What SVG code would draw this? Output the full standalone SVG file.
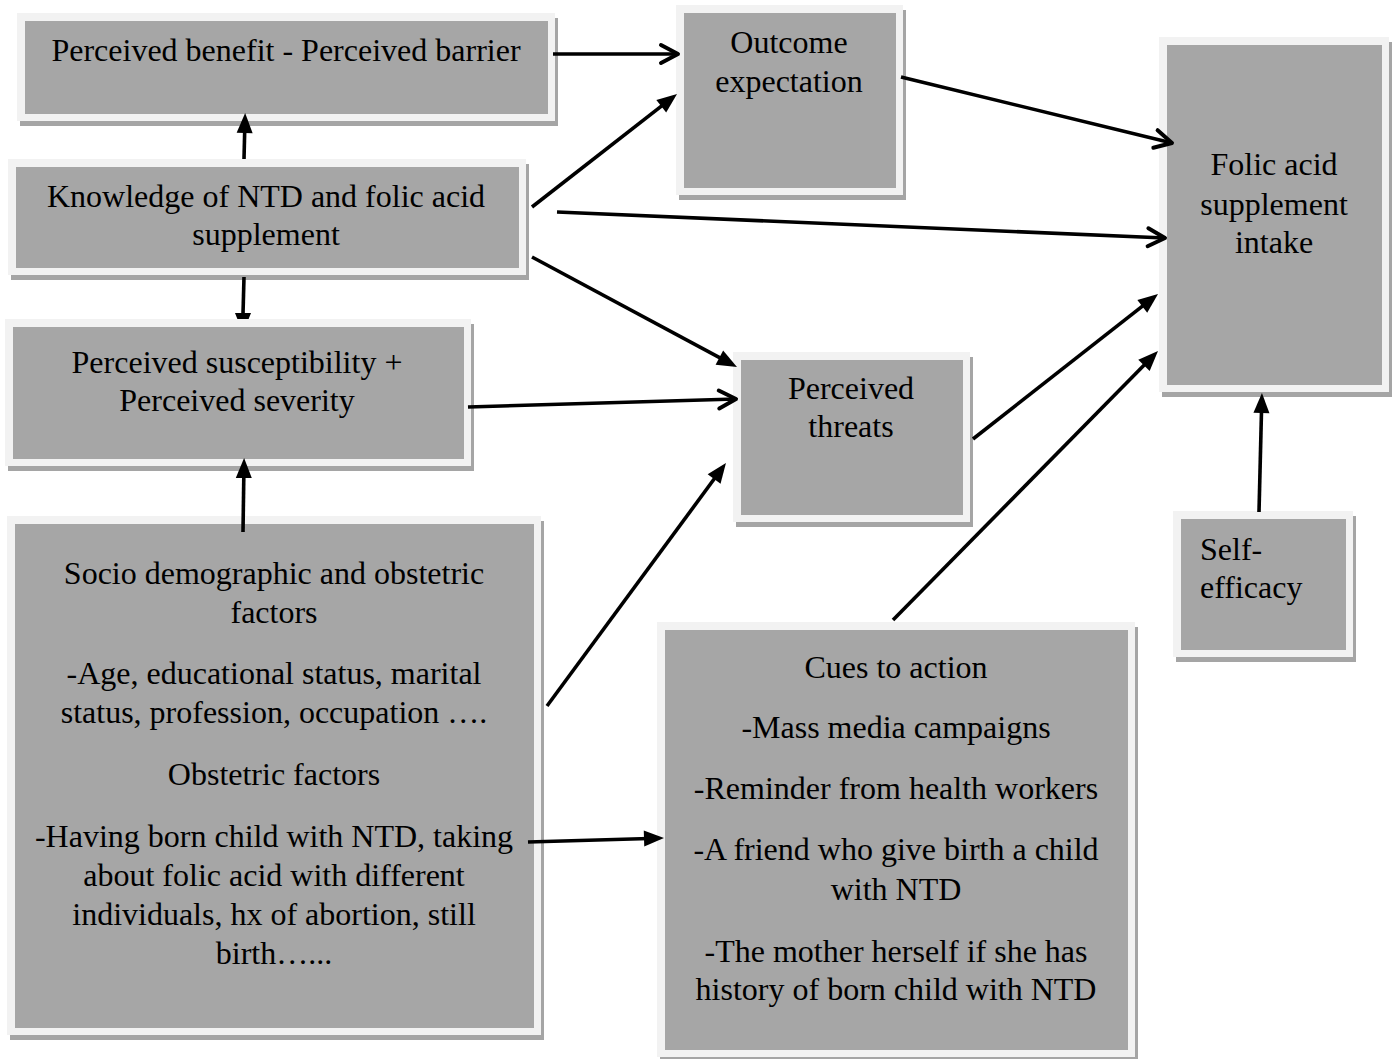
<svg xmlns="http://www.w3.org/2000/svg" width="1396" height="1059" viewBox="0 0 1396 1059">
<style>
  .shadow { fill: #a5a5a5; }
  .frame { fill: #f2f2f2; }
  .inner { fill: #a6a6a6; }
  text { font-family: "Liberation Serif", "Times New Roman", serif; font-size: 32px; fill: #000; }
  .c { text-anchor: middle; }
  .ln { stroke: #000; stroke-width: 3.6; fill: none; }
</style>
<defs>
  <marker id="solid" markerUnits="userSpaceOnUse" markerWidth="24" markerHeight="20" refX="14" refY="8" orient="auto" overflow="visible">
    <path d="M0,0 L20,8 L0,16 z" fill="#000"/>
  </marker>
  <marker id="open" markerUnits="userSpaceOnUse" markerWidth="24" markerHeight="22" refX="18" refY="9" orient="auto" overflow="visible">
    <path d="M1,0 L18,9 L1,18" fill="none" stroke="#000" stroke-width="4" stroke-linecap="round" stroke-linejoin="round"/>
  </marker>
</defs>
<rect width="1396" height="1059" fill="#fff"/>

<g id="node-benefit">
  <rect class="shadow" x="20" y="18" width="538" height="108"/>
  <rect class="frame" x="17" y="13" width="538" height="108"/>
  <rect class="inner" x="25" y="21" width="523" height="93"/>
  <text class="c" x="286" y="61">Perceived benefit - Perceived barrier</text>
</g>

<g id="node-knowledge">
  <rect class="shadow" x="11" y="164" width="518" height="116"/>
  <rect class="frame" x="8" y="159" width="518" height="116"/>
  <rect class="inner" x="16" y="167" width="503" height="101"/>
  <text class="c" x="266" y="207">Knowledge of NTD and folic acid</text>
  <text class="c" x="266" y="245">supplement</text>
</g>

<g id="node-susceptibility">
  <rect class="shadow" x="8" y="324" width="466" height="147"/>
  <rect class="frame" x="5" y="319" width="466" height="147"/>
  <rect class="inner" x="13" y="327" width="451" height="132"/>
  <text class="c" x="237" y="373">Perceived susceptibility +</text>
  <text class="c" x="237" y="411">Perceived severity</text>
</g>

<g id="node-socio">
  <rect class="shadow" x="10" y="521" width="534" height="519"/>
  <rect class="frame" x="7" y="516" width="534" height="519"/>
  <rect class="inner" x="15" y="524" width="519" height="504"/>
  <text class="c" x="274" y="584">Socio demographic and obstetric</text>
  <text class="c" x="274" y="623">factors</text>
  <text class="c" x="274" y="684">-Age, educational status, marital</text>
  <text class="c" x="274" y="723">status, profession, occupation ….</text>
  <text class="c" x="274" y="785">Obstetric factors</text>
  <text class="c" x="274" y="847">-Having born child with NTD, taking</text>
  <text class="c" x="274" y="886">about folic acid with different</text>
  <text class="c" x="274" y="925">individuals, hx of abortion, still</text>
  <text class="c" x="274" y="964">birth…...</text>
</g>

<g id="node-outcome">
  <rect class="shadow" x="679" y="10" width="227" height="190"/>
  <rect class="frame" x="676" y="5" width="227" height="190"/>
  <rect class="inner" x="684" y="13" width="212" height="175"/>
  <text class="c" x="789" y="53">Outcome</text>
  <text class="c" x="789" y="92">expectation</text>
</g>

<g id="node-folic">
  <rect class="shadow" x="1162" y="42" width="230" height="355"/>
  <rect class="frame" x="1159" y="37" width="230" height="355"/>
  <rect class="inner" x="1167" y="45" width="215" height="340"/>
  <text class="c" x="1274" y="175">Folic acid</text>
  <text class="c" x="1274" y="215">supplement</text>
  <text class="c" x="1274" y="253">intake</text>
</g>

<g id="node-threats">
  <rect class="shadow" x="736" y="357" width="237" height="170"/>
  <rect class="frame" x="733" y="352" width="237" height="170"/>
  <rect class="inner" x="741" y="360" width="222" height="155"/>
  <text class="c" x="851" y="399">Perceived</text>
  <text class="c" x="851" y="437">threats</text>
</g>

<g id="node-selfefficacy">
  <rect class="shadow" x="1176" y="516" width="180" height="146"/>
  <rect class="frame" x="1173" y="511" width="180" height="146"/>
  <rect class="inner" x="1181" y="519" width="165" height="131"/>
  <text x="1200" y="560">Self-</text>
  <text x="1200" y="598">efficacy</text>
</g>

<g id="node-cues">
  <rect class="shadow" x="660" y="627" width="478" height="435"/>
  <rect class="frame" x="657" y="622" width="478" height="435"/>
  <rect class="inner" x="665" y="630" width="463" height="420"/>
  <text class="c" x="896" y="678">Cues to action</text>
  <text class="c" x="896" y="738">-Mass media campaigns</text>
  <text class="c" x="896" y="799">-Reminder from health workers</text>
  <text class="c" x="896" y="860">-A friend who give birth a child</text>
  <text class="c" x="896" y="900">with NTD</text>
  <text class="c" x="896" y="962">-The mother herself if she has</text>
  <text class="c" x="896" y="1000">history of born child with NTD</text>
</g>

<g id="connectors">
  <line class="ln" x1="553" y1="54" x2="678" y2="54" marker-end="url(#open)"/>
  <line class="ln" x1="557" y1="212" x2="1165" y2="238" marker-end="url(#open)"/>
  <line class="ln" x1="901" y1="77" x2="1172" y2="143" marker-end="url(#open)"/>
  <line class="ln" x1="468" y1="407" x2="736" y2="399" marker-end="url(#open)"/>

  <line class="ln" x1="532" y1="207" x2="672.3" y2="97.7" marker-end="url(#solid)"/>
  <line class="ln" x1="532" y1="257" x2="731.7" y2="364.2" marker-end="url(#solid)"/>
  <line class="ln" x1="547" y1="706" x2="722.4" y2="467.8" marker-end="url(#solid)"/>
  <line class="ln" x1="973" y1="439" x2="1153.3" y2="297.7" marker-end="url(#solid)"/>
  <line class="ln" x1="893" y1="620" x2="1153.8" y2="355.3" marker-end="url(#solid)"/>
  <line class="ln" x1="1259" y1="512" x2="1261.8" y2="399" marker-end="url(#solid)"/>
  <line class="ln" x1="528" y1="842" x2="658" y2="838.2" marker-end="url(#solid)"/>
  <line class="ln" x1="244" y1="159" x2="245" y2="119" marker-end="url(#solid)"/>
  <line class="ln" x1="243" y1="532" x2="244" y2="464" marker-end="url(#solid)"/>
  <line class="ln" x1="244" y1="277" x2="243" y2="314"/>
  <polygon points="235,313 251,313 248.6,319 237.4,319" fill="#000"/>
</g>
</svg>
